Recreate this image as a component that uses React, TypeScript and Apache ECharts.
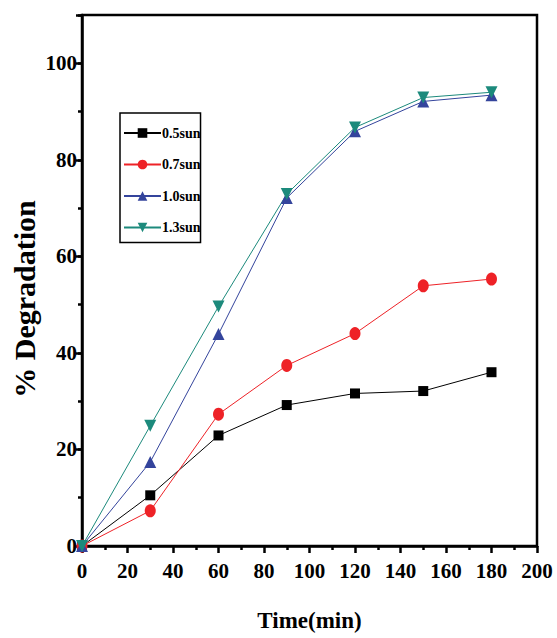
import React, { useEffect, useRef } from "react";
import * as echarts from "echarts";

const times = [0, 30, 60, 90, 120, 150, 180];
const sun05 = [0, 10.5, 22.9, 29.2, 31.6, 32.1, 36.0];
const sun07 = [0, 7.3, 27.3, 37.4, 44.0, 53.9, 55.3];
const sun10 = [0, 17.4, 43.9, 72.1, 85.9, 92.1, 93.4];
const sun13 = [0, 24.9, 49.6, 72.9, 86.7, 92.9, 94.0];
const seriesNames = ["0.5sun", "0.7sun", "1.0sun", "1.3sun"];
const xTitle = "Time(min)";
const yTitle = "% Degradation";

const FONT = "'Liberation Serif', 'Times New Roman', serif";

export default function App() {
  const ref = useRef<HTMLDivElement>(null);
  useEffect(() => {
    document.body.style.margin = "0";
    if (!ref.current) return;
    const chart = echarts.init(ref.current, undefined, { renderer: "svg" });
    const pair = (ys: number[]) => times.map((t, i) => [t, ys[i]]);
    const mk = (name: string, ys: number[], color: string, symbol: string, size: number | number[], rot = 0) => ({
      name,
      type: "line",
      data: pair(ys),
      xAxisIndex: 0,
      yAxisIndex: 0,
      symbol,
      symbolSize: size,
      symbolRotate: rot,
      showAllSymbol: true,
      lineStyle: { color, width: 1 },
      itemStyle: { color },
      z: 3,
    });
    chart.setOption({
      animation: false,
      backgroundColor: "#fff",
      grid: {
        left: 82,
        right: 20,
        top: 15,
        bottom: 92,
        show: true,
        borderColor: "#000",
        borderWidth: 2.5,
        backgroundColor: "transparent",
      },
      legend: {
        orient: "vertical",
        left: 120,
        top: 113,
        padding: [13, 0, 8, 3],
        borderColor: "#000",
        borderWidth: 1.5,
        itemWidth: 37,
        itemHeight: 12,
        itemGap: 17.5,
        textStyle: { fontFamily: FONT, fontSize: 14, fontWeight: "bold", color: "#000", padding: [0, 0, 0, -4] },
        data: seriesNames,
      },
      xAxis: {
        type: "value",
        min: 0,
        max: 200,
        interval: 20,
        axisLine: { show: true, lineStyle: { color: "#000", width: 2.5 } },
        axisTick: { show: true, inside: false, length: 7, lineStyle: { color: "#000", width: 2.5 } },
        minorTick: { show: true, splitNumber: 2, length: 4, lineStyle: { color: "#000", width: 2.5 } },
        axisLabel: { margin: 14, fontFamily: FONT, fontSize: 21, fontWeight: "bold", color: "#000" },
        splitLine: { show: false },
        name: xTitle,
        nameLocation: "middle",
        nameGap: 63,
        nameTextStyle: { fontFamily: FONT, fontSize: 23, fontWeight: "bold", color: "#000" },
      },
      yAxis: [
        {
          type: "value",
          min: 0,
          max: 110,
          interval: 20,
          axisLine: { show: true, lineStyle: { color: "#000", width: 2.5 } },
          axisTick: { show: true, inside: false, length: 6, lineStyle: { color: "#000", width: 2.5 } },
          axisLabel: {
            margin: 5,
            fontFamily: FONT,
            fontSize: 21,
            fontWeight: "bold",
            color: "#000",
            formatter: (v: number) => (v % 20 === 0 ? String(v) : ""),
          },
          splitLine: { show: false },
        },
        {
          type: "value",
          min: 0,
          max: 110,
          interval: 10,
          position: "left",
          axisLine: { show: false },
          axisTick: { show: true, inside: false, length: 4, lineStyle: { color: "#000", width: 2.5 } },
          axisLabel: { show: false },
          splitLine: { show: false },
        },
      ],
      graphic: [
        {
          type: "text",
          x: 24,
          y: 299,
          rotation: Math.PI / 2,
          style: {
            text: yTitle,
            fontFamily: FONT,
            fontSize: 30,
            fontWeight: "bold",
            fill: "#000",
            textAlign: "center",
            textVerticalAlign: "middle",
          },
        },
      ],
      series: [
        mk(seriesNames[0], sun05, "#000000", "rect", 10),
        mk(seriesNames[1], sun07, "#ee2227", "circle", [11, 13]),
        mk(seriesNames[2], sun10, "#34449c", "triangle", 12),
        mk(seriesNames[3], sun13, "#1c8a7c", "triangle", 12, 180),
      ],
    });
    return () => chart.dispose();
  }, []);
  return <div ref={ref} style={{ width: 557, height: 638 }} />;
}
